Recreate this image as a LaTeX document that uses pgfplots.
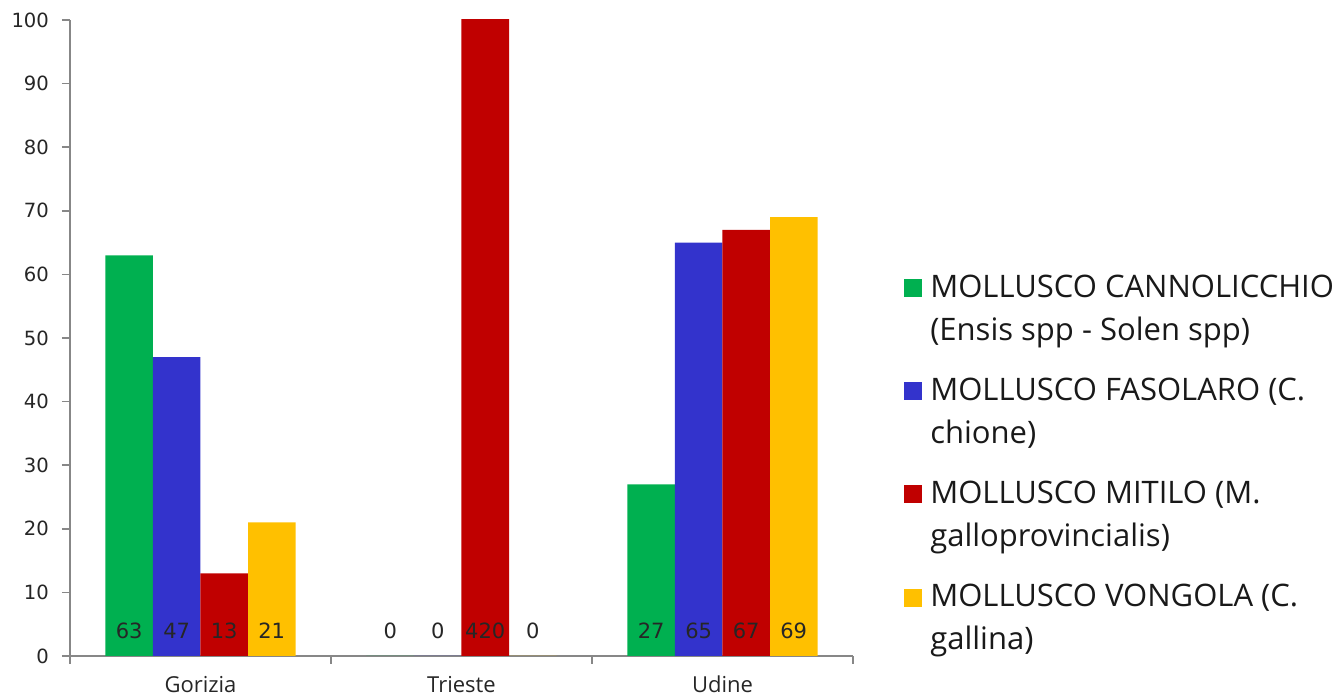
\documentclass[border=0pt]{standalone}
\usepackage{pgfplots}
\pgfplotsset{compat=1.18}
\usepackage{fontspec}
\setmainfont{Open Sans}
\newfontfamily\numfont{DejaVu Sans}
\definecolor{cgreen}{HTML}{00B050}
\definecolor{cblue}{HTML}{3333CC}
\definecolor{cred}{HTML}{C00000}
\definecolor{cyellow}{HTML}{FFC000}
\definecolor{axgray}{HTML}{878787}
\pgfplotsset{
  mybar/.style={ybar, draw=none, bar width=0.182, bar shift=#1,
    legend image code/.code={\fill[##1,draw=none] (0pt,0pt) rectangle (9pt,9pt);}},
  mylab/.style={forget plot, draw=none, nodes near coords, point meta=explicit symbolic,
    nodes near coords style={anchor=center, font=\numfont\fontsize{10.5}{12}\selectfont, text=black!85}},
}
\begin{document}
\begin{tikzpicture}
\path[use as bounding box] (-35pt,-20.5pt) rectangle (635.5pt,328pt);
\begin{axis}[
  at={(0pt,0pt)}, anchor=south west,
  scale only axis, width=391.5pt, height=318pt,
  xmin=-0.5, xmax=2.5, ymin=0, ymax=100,
  axis x line*=bottom, axis y line*=left,
  axis line style={draw=axgray, line width=0.8pt},
  tick style={draw=axgray, line width=0.8pt},
  tick align=outside, major tick length=4pt,
  xtick={-0.5,0.5,1.5,2.5}, xticklabels={},
  extra x ticks={0,1,2}, extra x tick labels={Gorizia,Trieste,Udine},
  extra x tick style={major tick length=0pt},
  xticklabel style={font=\fontsize{11}{13}\selectfont, text=black!85, yshift=-6.5pt},
  ytick={0,10,...,100},
  /pgf/number format/assume math mode=true,
  yticklabel style={font=\numfont\fontsize{9.8}{11}\selectfont, text=black!85, xshift=-3pt},
  legend style={at={(axis description cs:1.065,0.612)}, anchor=north west,
    draw=none, fill=none, inner sep=0pt, row sep=35pt, column sep=4pt,
    cells={anchor=base west},
    nodes={inner sep=0pt, font=\fontsize{15.5}{21.5}\selectfont, text=black!90}},
]
\addplot[mybar=-0.273, fill=cgreen] coordinates {(0,63) (1,0) (2,27)};
\addlegendentry{\begin{tabular}[t]{@{}l@{}}MOLLUSCO CANNOLICCHIO\\(Ensis spp - Solen spp)\end{tabular}}
\addplot[mybar=-0.091, fill=cblue] coordinates {(0,47) (1,0) (2,65)};
\addlegendentry{\begin{tabular}[t]{@{}l@{}}MOLLUSCO FASOLARO (C.\\chione)\end{tabular}}
\addplot[mybar=0.091, fill=cred] coordinates {(0,13) (1,420) (2,67)};
\addlegendentry{\begin{tabular}[t]{@{}l@{}}MOLLUSCO MITILO (M.\\galloprovincialis)\end{tabular}}
\addplot[mybar=0.273, fill=cyellow] coordinates {(0,21) (1,0) (2,69)};
\addlegendentry{\begin{tabular}[t]{@{}l@{}}MOLLUSCO VONGOLA (C.\\gallina)\end{tabular}}
\addplot[mylab] coordinates {(-0.273,4)[63] (0.727,4)[0] (1.727,4)[27]};
\addplot[mylab] coordinates {(-0.091,4)[47] (0.909,4)[0] (1.909,4)[65]};
\addplot[mylab] coordinates {(0.091,4)[13] (1.091,4)[420] (2.091,4)[67]};
\addplot[mylab] coordinates {(0.273,4)[21] (1.273,4)[0] (2.273,4)[69]};
\end{axis}
\end{tikzpicture}
\end{document}
